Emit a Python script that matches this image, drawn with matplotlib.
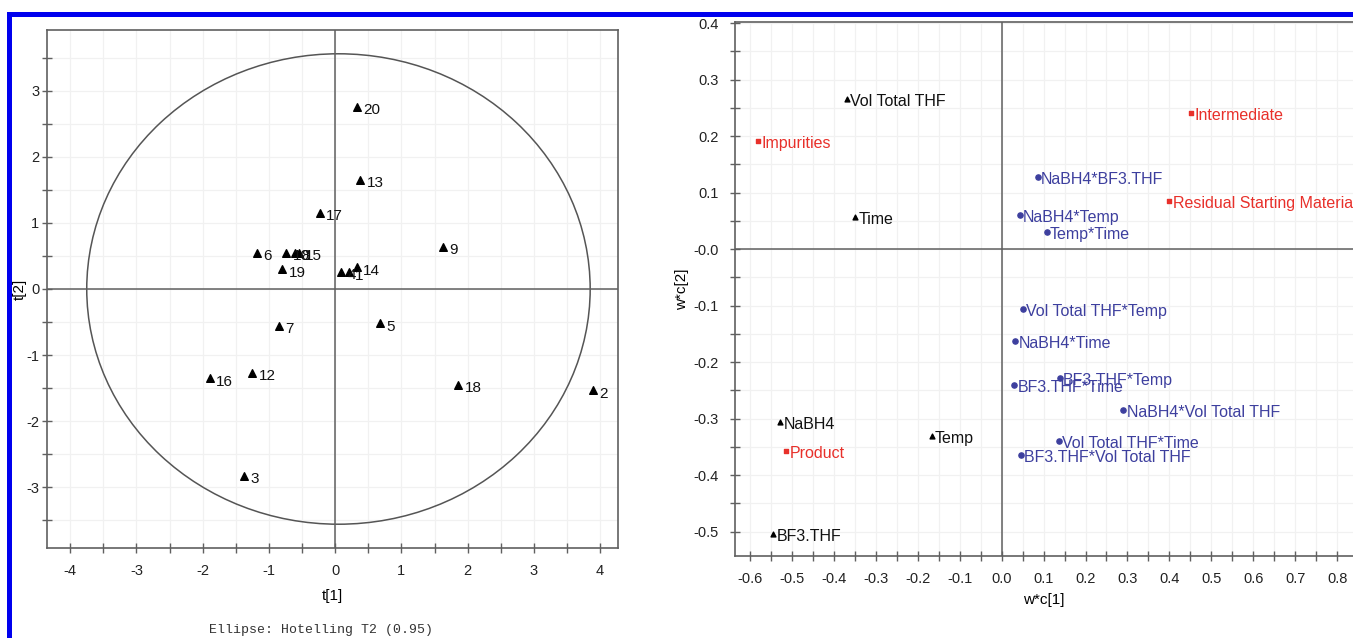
import numpy as np
import matplotlib
matplotlib.use("Agg")
import matplotlib.pyplot as plt
from matplotlib.patches import Ellipse, Rectangle

plt.rcParams["font.family"] = ["Liberation Sans", "DejaVu Sans"]
plt.rcParams["axes.unicode_minus"] = False

# score plot (t[1] vs t[2]) for the 20 runs
run_ids = ["20", "13", "17", "9", "6", "10", "8", "15", "19", "4", "1", "14",
           "7", "5", "16", "12", "18", "2", "3"]
t1 = [0.33, 0.38, -0.23, 1.63, -1.18, -0.74, -0.60, -0.55, -0.80, 0.09, 0.21, 0.33,
      -0.85, 0.68, -1.89, -1.25, 1.86, 3.89, -1.37]
t2 = [2.76, 1.65, 1.15, 0.64, 0.55, 0.55, 0.55, 0.55, 0.30, 0.26, 0.25, 0.33,
      -0.56, -0.52, -1.35, -1.27, -1.45, -1.53, -2.83]
# Hotelling T2 (0.95) ellipse half-axes
t2_radius = (3.80, 3.56)

# loading plot (w*c[1] vs w*c[2])
x_terms = ["Vol Total THF", "Time", "NaBH4", "Temp", "BF3.THF"]
x_wc1 = [-0.369, -0.350, -0.529, -0.167, -0.545]
x_wc2 = [0.265, 0.057, -0.306, -0.331, -0.504]

y_terms = ["Impurities", "Intermediate", "Residual Starting Material", "Product"]
y_wc1 = [-0.581, 0.452, 0.400, -0.514]
y_wc2 = [0.191, 0.241, 0.085, -0.358]

int_terms = ["NaBH4*BF3.THF", "NaBH4*Temp", "Temp*Time", "Vol Total THF*Temp",
             "NaBH4*Time", "BF3.THF*Temp", "BF3.THF*Time", "NaBH4*Vol Total THF",
             "Vol Total THF*Time", "BF3.THF*Vol Total THF"]
int_wc1 = [0.086, 0.043, 0.107, 0.050, 0.033, 0.138, 0.029, 0.290, 0.136, 0.045]
int_wc2 = [0.127, 0.060, 0.030, -0.106, -0.163, -0.228, -0.241, -0.285, -0.340, -0.365]

W, H = 1353, 638
fig = plt.figure(figsize=(W / 100, H / 100), dpi=100)
fig.patch.set_facecolor("white")

spine_col = "#606060"
grid_col = "#f1f1f1"
red = "#e8302a"
blue = "#3d3f9e"
label_size = 11.5


def style_axes(ax):
    for s in ax.spines.values():
        s.set_color(spine_col)
        s.set_linewidth(1.2)
    ax.tick_params(which="both", direction="inout", color=spine_col,
                   labelsize=10.5, width=1, labelcolor="#222222")
    ax.tick_params(which="major", length=7)
    ax.tick_params(which="minor", length=7)
    ax.tick_params(axis="x", which="major", pad=8)
    ax.grid(True, which="both", color=grid_col, lw=0.9)
    ax.set_axisbelow(True)


def fmt_tick(v, pos):
    return "0" if abs(v) < 1e-9 else f"{v:g}"


# ---- left: score plot ----
ax1 = fig.add_axes([47 / W, 1 - 548 / H, (618 - 47) / W, (548 - 30) / H])
style_axes(ax1)
ax1.set_xlim(-4.35, 4.27)
ax1.set_ylim(-3.92, 3.92)
ax1.set_xticks(np.arange(-4, 5, 1))
ax1.set_xticks(np.arange(-4, 4.5, 0.5), minor=True)
ax1.set_yticks(np.arange(-3, 4, 1))
ax1.set_yticks(np.arange(-3.5, 4, 0.5), minor=True)
ax1.tick_params(axis="y", which="major", pad=2)
ax1.xaxis.set_major_formatter(plt.FuncFormatter(fmt_tick))
ax1.yaxis.set_major_formatter(plt.FuncFormatter(fmt_tick))
ax1.axhline(0, color=spine_col, lw=1.1)
ax1.axvline(0, color=spine_col, lw=1.1)
ax1.add_patch(Ellipse((0.05, 0), 2 * t2_radius[0], 2 * t2_radius[1],
                      fill=False, edgecolor="#555555", lw=1.1))
ax1.scatter(t1, t2, marker="^", s=30, color="black", zorder=3)
for name, x, y in zip(run_ids, t1, t2):
    ax1.annotate(name, (x, y), xytext=(4.5, -2.5), textcoords="offset points",
                 va="center", ha="left", fontsize=11, color="#111111")
ax1.set_xlabel("t[1]", fontsize=11, labelpad=8)
ax1.set_ylabel("t[2]", fontsize=11)
ax1.yaxis.set_label_coords(-0.036, 0.5)
fig.text(321 / W, 1 - 630 / H, "Ellipse: Hotelling T2 (0.95)",
         family="Liberation Mono", fontsize=9.5, ha="center", va="center",
         color="#333333")

# ---- right: loading plot ----
ax2 = fig.add_axes([735 / W, 1 - 556 / H, (W - 735) / W, (556 - 22) / H])
style_axes(ax2)
ax2.spines["right"].set_visible(False)
ax2.set_xlim(-0.636, 0.838)
ax2.set_ylim(-0.543, 0.402)
ax2.set_xticks(np.round(np.arange(-0.6, 0.85, 0.1), 2))
ax2.set_xticks(np.arange(-0.6, 0.85, 0.05), minor=True)
ax2.set_yticks(np.round(np.arange(-0.5, 0.45, 0.1), 2))
ax2.set_yticks(np.arange(-0.5, 0.42, 0.05), minor=True)
ax2.tick_params(axis="y", which="major", pad=8)
ax2.xaxis.set_major_formatter(
    plt.FuncFormatter(lambda v, p: "0.0" if abs(v) < 1e-9 else f"{v:.1f}"))
ax2.yaxis.set_major_formatter(
    plt.FuncFormatter(lambda v, p: "-0.0" if abs(v) < 1e-9 else f"{v:.1f}"))
ax2.axhline(0, color=spine_col, lw=1.1)
ax2.axvline(0, color=spine_col, lw=1.1)

ax2.scatter(x_wc1, x_wc2, marker="^", s=12, color="black", zorder=3)
for name, x, y in zip(x_terms, x_wc1, x_wc2):
    ax2.annotate(name, (x, y), xytext=(2.5, -1.5), textcoords="offset points",
                 va="center", ha="left", fontsize=label_size, color="#111111")

ax2.scatter(y_wc1, y_wc2, marker="s", s=9, color=red, zorder=3)
for name, x, y in zip(y_terms, y_wc1, y_wc2):
    ax2.annotate(name, (x, y), xytext=(2.5, -1.5), textcoords="offset points",
                 va="center", ha="left", fontsize=label_size, color=red)

ax2.scatter(int_wc1, int_wc2, marker="o", s=14, color=blue, zorder=3)
for name, x, y in zip(int_terms, int_wc1, int_wc2):
    ax2.annotate(name, (x, y), xytext=(2.5, -1.5), textcoords="offset points",
                 va="center", ha="left", fontsize=label_size, color=blue)

ax2.set_xlabel("w*c[1]", fontsize=11, labelpad=5)
ax2.set_ylabel("w*c[2]", fontsize=11, labelpad=3)

# blue frame along the top and left edges
frame_blue = "#0000ee"
fig.add_artist(Rectangle((7 / W, 0), 5 / W, 1 - 12 / H, transform=fig.transFigure,
                         color=frame_blue, lw=0))
fig.add_artist(Rectangle((7 / W, 1 - 17 / H), 1, 5 / H, transform=fig.transFigure,
                         color=frame_blue, lw=0))

fig.savefig("out.png", dpi=100)
